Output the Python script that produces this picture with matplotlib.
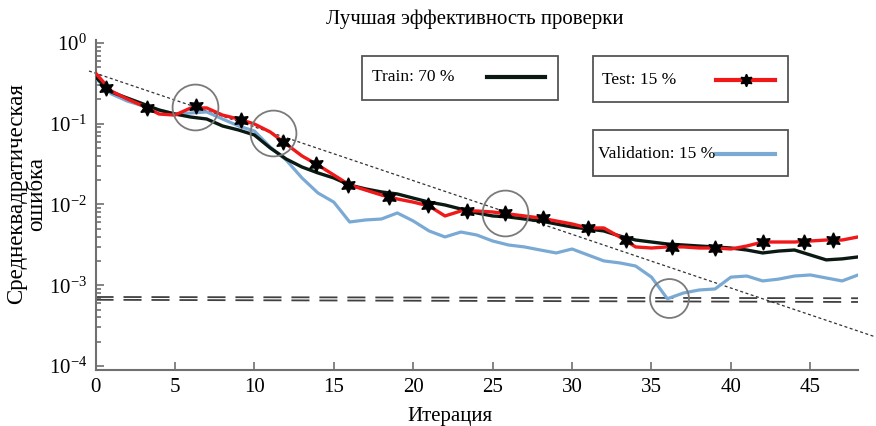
import numpy as np
import matplotlib
matplotlib.use("Agg")
import matplotlib.pyplot as plt
from matplotlib.patches import Rectangle
from matplotlib.lines import Line2D
from matplotlib.ticker import LogLocator, LogFormatterMathtext, NullFormatter

plt.rcParams["font.family"] = "serif"
plt.rcParams["font.serif"] = ["Liberation Serif", "DejaVu Serif"]
plt.rcParams["mathtext.fontset"] = "stix"

# training history, one value per epoch
epochs = np.arange(49)
train_mse = [0.379, 0.247, 0.208, 0.176, 0.148, 0.132, 0.121, 0.1145, 0.0938, 0.0837,
             0.0726, 0.0501, 0.0366, 0.0291, 0.0246, 0.0213, 0.0174, 0.0156, 0.0143, 0.0135,
             0.0120, 0.0107, 0.00986, 0.00879, 0.00785, 0.00721, 0.00700, 0.00661, 0.00625,
             0.00574, 0.00526, 0.00498, 0.00470, 0.00407, 0.00363, 0.00343, 0.00324, 0.00315,
             0.00306, 0.00298, 0.00289, 0.00273, 0.00251, 0.00265, 0.00273, 0.00237, 0.00206,
             0.00212, 0.00224]
test_mse = [0.425, 0.254, 0.2025, 0.166, 0.132, 0.128, 0.157, 0.157, 0.128, 0.1145,
            0.0993, 0.0791, 0.0561, 0.0399, 0.0308, 0.0232, 0.0174, 0.0151, 0.0131, 0.0117,
            0.0107, 0.00958, 0.00721, 0.00831, 0.00831, 0.00807, 0.00763, 0.00721, 0.00681,
            0.00625, 0.00574, 0.00512, 0.00512, 0.00396, 0.00298, 0.00289, 0.00298, 0.00298,
            0.00289, 0.00289, 0.00281, 0.00306, 0.00343, 0.00343, 0.00343, 0.00353, 0.00363,
            0.00363, 0.00396]
val_mse = [0.369, 0.234, 0.191, 0.166, 0.148, 0.132, 0.136, 0.140, 0.1145, 0.0938,
           0.0813, 0.0515, 0.0356, 0.0213, 0.0139, 0.0107, 0.00607, 0.00643, 0.00661, 0.00785,
           0.00625, 0.00470, 0.00396, 0.00456, 0.00419, 0.00353, 0.00315, 0.00298, 0.00273,
           0.00251, 0.00281, 0.00237, 0.00200, 0.00189, 0.00173, 0.00126, 0.00068, 0.00080,
           0.000873, 0.000899, 0.00126, 0.00130, 0.00113, 0.00119, 0.00130, 0.00134, 0.00123,
           0.00113, 0.00134]

# star markers along the test curve
star_x = [0.66, 3.24, 6.32, 9.16, 11.8, 13.9, 15.9, 18.5, 20.9, 23.4, 25.8, 28.2,
          31.0, 33.4, 36.3, 39.0, 42.0, 44.6, 46.4]
star_y = [0.277, 0.157, 0.166, 0.111, 0.0594, 0.0318, 0.0174, 0.0124, 0.00986, 0.00831,
          0.00785, 0.00681, 0.00512, 0.00363, 0.00298, 0.00289, 0.00343, 0.00343, 0.00363]

# goal lines and trend
goal_x = [0, 48]
goal_hi = [7.15e-4, 6.9e-4]
goal_lo = [6.6e-4, 6.2e-4]
trend_x = [-0.41, 49.1]
trend_y = [0.45, 2.29e-4]

# highlighted points
circle_x = [6.26, 11.16, 25.8, 36.13]
circle_y = [0.161, 0.0768, 0.00785, 0.000695]
circle_ms = [33, 33, 33, 28]

c_train = "#0a1a12"
c_test = "#f01818"
c_val = "#7aaad4"
c_frame = "#707070"

W, H = 876, 426
fig = plt.figure(figsize=(W / 100, H / 100), dpi=100)
ax = fig.add_axes([95.5 / W, 1 - 370 / H, 762.5 / W, 329.5 / H])

ax.plot(goal_x, goal_hi, color="#404040", lw=1.3, dashes=(10, 5.5))
ax.plot(goal_x, goal_lo, color="#404040", lw=1.3, dashes=(10, 5.5))
ax.plot(trend_x, trend_y, color="#333333", lw=0.9, dashes=(2.4, 2.0), clip_on=False)

ax.plot(epochs, val_mse, color=c_val, lw=2.3, zorder=3)
ax.plot(epochs, train_mse, color=c_train, lw=2.4, zorder=4)
ax.plot(epochs, test_mse, color=c_test, lw=2.4, zorder=5)
ax.plot(star_x, star_y, ls="none", marker=(6, 1, 0), ms=11, color="black", zorder=6)

for cx, cy, ms in zip(circle_x, circle_y, circle_ms):
    ax.plot([cx], [cy], marker="o", ms=ms, mfc="none", mec="#7a7a7a", mew=1.3, zorder=7)

ax.set_yscale("log")
ax.set_xlim(0, 48)
ax.set_ylim(10 ** -4.05, 10 ** 0.031)
ax.set_xticks(range(0, 46, 5))
ax.yaxis.set_major_locator(LogLocator(base=10, numticks=10))
ax.yaxis.set_major_formatter(LogFormatterMathtext())
ax.yaxis.set_minor_locator(LogLocator(base=10, subs=np.arange(2, 10), numticks=20))
ax.yaxis.set_minor_formatter(NullFormatter())

for side in ("top", "right"):
    ax.spines[side].set_visible(False)
for side in ("left", "bottom"):
    ax.spines[side].set_color(c_frame)
    ax.spines[side].set_linewidth(1.5)
ax.tick_params(which="both", direction="in", color=c_frame, width=1.2, labelsize=15)
ax.tick_params(which="major", length=6, pad=6)
ax.tick_params(which="minor", length=3.5)

ax.set_xlabel("Итерация", fontsize=15)
ax.xaxis.set_label_coords(0.465, -0.112)
ax.set_ylabel("Среднеквадратическая\nошибка", fontsize=16.5, linespacing=0.95)
ax.yaxis.set_label_coords(-0.063, 0.535)

fig.text(475 / W, 1 - 19 / H, "Лучшая эффективность проверки", ha="center", va="center",
         fontsize=15)


def px(x, y):
    return x / W, 1 - y / H


def legend_box(x0, y0, x1, y1, label, lx0, lx1, ly, tx, **line_kw):
    fx0, fy1 = px(x0, y1)
    fx1, fy0 = px(x1, y0)
    fig.add_artist(Rectangle((fx0, fy1), fx1 - fx0, fy0 - fy1, transform=fig.transFigure,
                             fill=False, ec="#555555", lw=1.3))
    tx_, ty_ = px(tx, ly)
    fig.text(tx_, ty_, label, ha="left", va="center", fontsize=12.5)
    a, b = px(lx0, ly)
    c, d = px(lx1, ly)
    fig.add_artist(Line2D([a, c], [b, d], transform=fig.transFigure, **line_kw))


legend_box(362, 56, 558, 100, "Train: 70 %", 487, 545, 77, 372, color=c_train, lw=3)
legend_box(593, 56, 788, 102, "Test: 15 %", 716, 775, 80, 602, color=c_test, lw=3)
sx, sy = px(745.5, 80)
fig.add_artist(Line2D([sx], [sy], transform=fig.transFigure, ls="none",
                      marker=(6, 1, 0), ms=9, color="black"))
legend_box(593, 130, 788, 176, "Validation: 15 %", 716, 775, 154, 598, color=c_val, lw=3)

fig.savefig("out.png", dpi=100)
